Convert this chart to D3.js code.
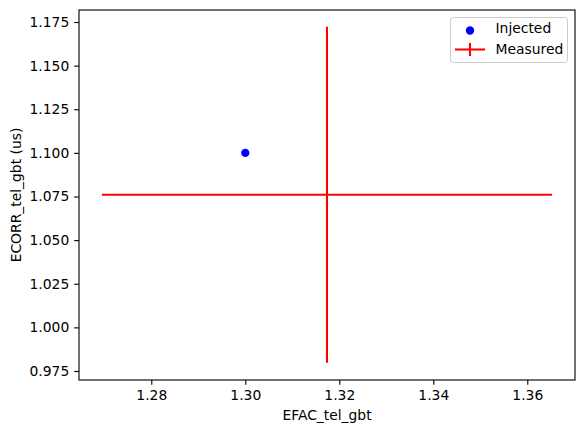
<!DOCTYPE html>
<html><head><meta charset="utf-8">
<script src="https://cdn.jsdelivr.net/npm/d3@7"></script>
<style>body{margin:0;background:#fff}svg{display:block}text{font-family:"DejaVu Sans",sans-serif}</style>
</head><body><div id="chart"></div>
<script>
const injected = [{x:1.30, y:1.10}];
const measured = [{x:1.31738, y:1.0760, xerr:0.04787, yerr:0.0963}];
const xTicks = [1.28,1.30,1.32,1.34,1.36];
const yTicks = [0.975,1.000,1.025,1.050,1.075,1.100,1.125,1.150,1.175];
const legendLabels = ["Injected","Measured"];

const W=585,H=433, fs=13.89;
const m={l:79,r:575,t:10,b:380};
const svg=d3.select("#chart").append("svg").attr("width",W).attr("height",H);
const x=d3.scaleLinear().domain([1.26462,1.37015]).range([m.l,m.r]);
const y=d3.scaleLinear().domain([0.96984,1.18188]).range([m.b,m.t]);

const xAxis=svg.append("g").attr("transform",`translate(0,${m.b})`)
  .call(d3.axisBottom(x).tickValues(xTicks).tickFormat(d3.format(".2f")).tickSizeOuter(0).tickSize(4.86).tickPadding(4.86));
const yAxis=svg.append("g").attr("transform",`translate(${m.l},0)`)
  .call(d3.axisLeft(y).tickValues(yTicks).tickFormat(d3.format(".3f")).tickSizeOuter(0).tickSize(4.86).tickPadding(4.86));
[xAxis,yAxis].forEach(a=>{a.select(".domain").remove();a.selectAll("line").attr("stroke","#000").attr("stroke-width",1.11);
  a.selectAll("text").attr("font-size",fs).attr("fill","#000").attr("font-family","DejaVu Sans");});

// error bars
const g=svg.append("g");
measured.forEach(d=>{
  g.append("line").attr("x1",x(d.x-d.xerr)).attr("x2",x(d.x+d.xerr)).attr("y1",y(d.y)).attr("y2",y(d.y)).attr("stroke","red").attr("stroke-width",2.08);
  g.append("line").attr("x1",x(d.x)).attr("x2",x(d.x)).attr("y1",y(d.y-d.yerr)).attr("y2",y(d.y+d.yerr)).attr("stroke","red").attr("stroke-width",2.08);
});
g.selectAll("circle.inj").data(injected).join("circle").attr("class","inj")
  .attr("cx",d=>x(d.x)).attr("cy",d=>y(d.y)).attr("r",4.17).attr("fill","blue");

svg.append("rect").attr("x",m.l).attr("y",m.t).attr("width",m.r-m.l).attr("height",m.b-m.t)
  .attr("fill","none").attr("stroke","#000").attr("stroke-width",1.11);

svg.append("text").attr("x",(m.l+m.r)/2).attr("y",420).attr("text-anchor","middle").attr("font-size",fs).text("EFAC_tel_gbt");
svg.append("text").attr("transform",`translate(21,${(m.t+m.b)/2}) rotate(-90)`).attr("text-anchor","middle").attr("font-size",fs).text("ECORR_tel_gbt (us)");

// legend
const lg=svg.append("g");
lg.append("rect").attr("x",450.5).attr("y",17.5).attr("width",117).attr("height",45).attr("rx",2.8)
  .attr("fill","#fff").attr("fill-opacity",0.8).attr("stroke","#ccc").attr("stroke-width",1);
lg.append("circle").attr("cx",470).attr("cy",30.5).attr("r",4.17).attr("fill","blue");
lg.append("line").attr("x1",455).attr("x2",485).attr("y1",49.5).attr("y2",49.5).attr("stroke","red").attr("stroke-width",2.08);
lg.append("line").attr("x1",470).attr("x2",470).attr("y1",43).attr("y2",56).attr("stroke","red").attr("stroke-width",2.08);
legendLabels.forEach((t,i)=>lg.append("text").attr("x",495.5).attr("y",28+i*21.5).attr("dy","0.35em").attr("font-size",fs).text(t));
</script></body></html>
